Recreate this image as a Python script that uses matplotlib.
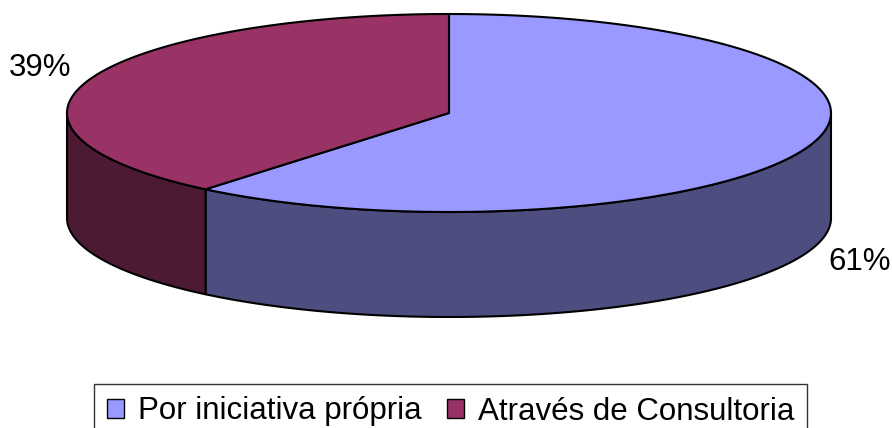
import numpy as np
import matplotlib.pyplot as plt
from matplotlib.patches import Polygon, Patch

plt.rcParams['font.family'] = ['Liberation Sans', 'DejaVu Sans']

labels = ['Por iniciativa própria', 'Através de Consultoria']
values = [61, 39]
pct_labels = ['61%', '39%']
top_colors = ['#9999FF', '#993366']
side_colors = ['#4D4D80', '#4D1A33']

# pie geometry in pixel space
cx, cy = 449, 113
rx, ry = 382, 99
depth = 105

fig = plt.figure(figsize=(8.92, 4.28), dpi=100)
ax = fig.add_axes([0, 0, 1, 1])
ax.set_xlim(0, 892)
ax.set_ylim(428, 0)
ax.axis('off')

# slices go clockwise from 12 o'clock (angles in degrees, math convention)
fracs = np.array(values) / sum(values)
starts = []
a = 90.0
for f in fracs:
    starts.append((a - 360 * f, a))
    a -= 360 * f


def arc(a1, a2, dy=0, n=200):
    t = np.radians(np.linspace(a1, a2, n))
    return np.column_stack([cx + rx * np.cos(t), cy - ry * np.sin(t) + dy])


# sides (front half only: 180..360)
for (a1, a2), col in zip(starts, side_colors):
    lo1, lo2 = a1 % 360, a2 % 360
    if lo2 <= lo1:
        lo2 += 360
    s1, s2 = max(lo1, 180), min(lo2, 360)
    if s1 >= s2:
        continue
    top = arc(s1, s2)
    bot = arc(s2, s1, dy=depth)
    ax.add_patch(Polygon(np.vstack([top, bot]), closed=True, facecolor=col,
                         edgecolor='black', lw=1.5, joinstyle='round'))

# tops
for (a1, a2), col in zip(starts, top_colors):
    pts = np.vstack([[cx, cy], arc(a1, a2)])
    ax.add_patch(Polygon(pts, closed=True, facecolor=col, edgecolor='black',
                         lw=1.5, joinstyle='round'))

# percentage labels
ax.text(860, 262, pct_labels[0], fontsize=22.5, ha='center', va='center')
ax.text(40, 68, pct_labels[1], fontsize=22.5, ha='center', va='center')

handles = [Patch(facecolor=c, edgecolor='black', lw=1) for c in top_colors]
leg = fig.legend(handles, labels, ncol=2, loc='upper center',
                 bbox_to_anchor=(0.505, 1 - 384 / 428), fontsize=22.5,
                 frameon=True, fancybox=False, edgecolor='black',
                 handlelength=0.55, handleheight=0.55, handletextpad=0.45,
                 columnspacing=0.8, borderpad=0.4, borderaxespad=0)
leg.get_frame().set_linewidth(1)

fig.savefig('out.png', dpi=100)
